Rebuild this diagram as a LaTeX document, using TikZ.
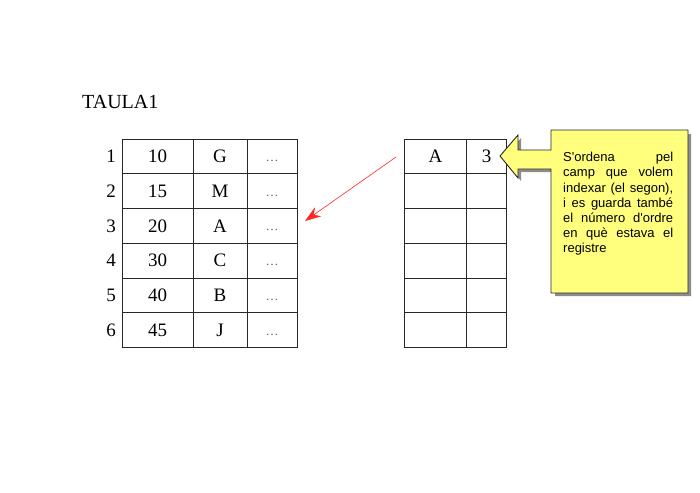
\documentclass[tikz,border=0pt]{standalone}
\usepackage{fontspec}
\setmainfont{Liberation Serif}
\newfontfamily\callfont{Liberation Sans}[Ligatures=TeXOff]
\usetikzlibrary{arrows.meta}
\definecolor{calloutyellow}{RGB}{255,255,125}
\definecolor{gridline}{RGB}{40,40,40}
\newcommand\calline[1]{\hbox to 110pt{#1}}
\tikzset{
  cell/.style={draw=gridline, line width=0.9pt, inner sep=0pt, font=\fontsize{19}{21}\selectfont},
  rownum/.style={inner sep=0pt, font=\fontsize{19}{21}\selectfont},
  dots/.style={inner sep=0pt, text=black!60, font=\fontsize{13}{15}\selectfont},
  redarrow/.style={draw=red!85, line width=0.6pt, -{Stealth[length=16pt,width=11pt]}},
  callout/.style={draw=black!85, line width=0.9pt, fill=calloutyellow},
  calshadow/.style={fill=black!45},
}
\begin{document}
\begin{tikzpicture}[x=1pt,y=-1pt]
\useasboundingbox (0,0) rectangle (700,492);
% title
\node[anchor=base west, inner sep=0pt, font=\fontsize{20}{22}\selectfont] (title) at (82,108) {TAULA1};
% left table
\foreach \n/\a/\b in {1/10/G,2/15/M,3/20/A,4/30/C,5/40/B,6/45/J}{
  \pgfmathsetmacro\yc{139+34.75*(\n-0.5)}
  \node[rownum] (num\n) at (111,\yc) {\n};
  \node[cell, minimum width=71pt, minimum height=34.75pt] (a\n) at (157.5,\yc) {\a};
  \node[cell, minimum width=54pt, minimum height=34.75pt] (b\n) at (220,\yc) {\b};
  \node[cell, minimum width=50pt, minimum height=34.75pt] (c\n) at (272,\yc) {};
  \node[dots, anchor=base] (d\n) at (272,\yc+5) {\dots};
}
% right table
\foreach \n in {1,...,6}{
  \pgfmathsetmacro\yc{139+34.75*(\n-0.5)}
  \node[cell, minimum width=61.5pt, minimum height=34.75pt] (r\n) at (435.5,\yc) {};
  \node[cell, minimum width=40.5pt, minimum height=34.75pt] (s\n) at (486.5,\yc) {};
}
\node[rownum] (rA) at (r1.center) {A};
\node[rownum] (s3) at (s1.center) {3};
% red arrow
\coordinate (arrS) at (396,157);
\coordinate (arrE) at (305,221);
\draw[redarrow] (arrS) -- (arrE);
% callout shadow
\fill[calshadow] (555,134) -- (691,134) -- (691,296) -- (555,296) -- (555,172) -- (521,172) -- (521,181) -- (503,159) -- (521,138) -- (521,153) -- (555,153) -- cycle;
% callout
\draw[callout] (551,130) -- (688,130) -- (688,293) -- (551,293) -- (551,169) -- (518,169) -- (518,178) -- (500,156) -- (518,135) -- (518,150) -- (551,150) -- cycle;
\coordinate (calltip) at (500,156);
\node[anchor=base west, inner sep=0pt, font=\callfont\fontsize{13}{15.2}\selectfont] (calltext) at (563,161.7) {\vtop{\baselineskip=15.2pt\spaceskip=0.25em plus 1fil
\calline{S'ordena pel}
\calline{camp que volem}
\calline{indexar (el segon),}
\calline{i es guarda també}
\calline{el número d'ordre}
\calline{en què estava el}
\calline{registre\hfill}}};
\end{tikzpicture}
\end{document}
